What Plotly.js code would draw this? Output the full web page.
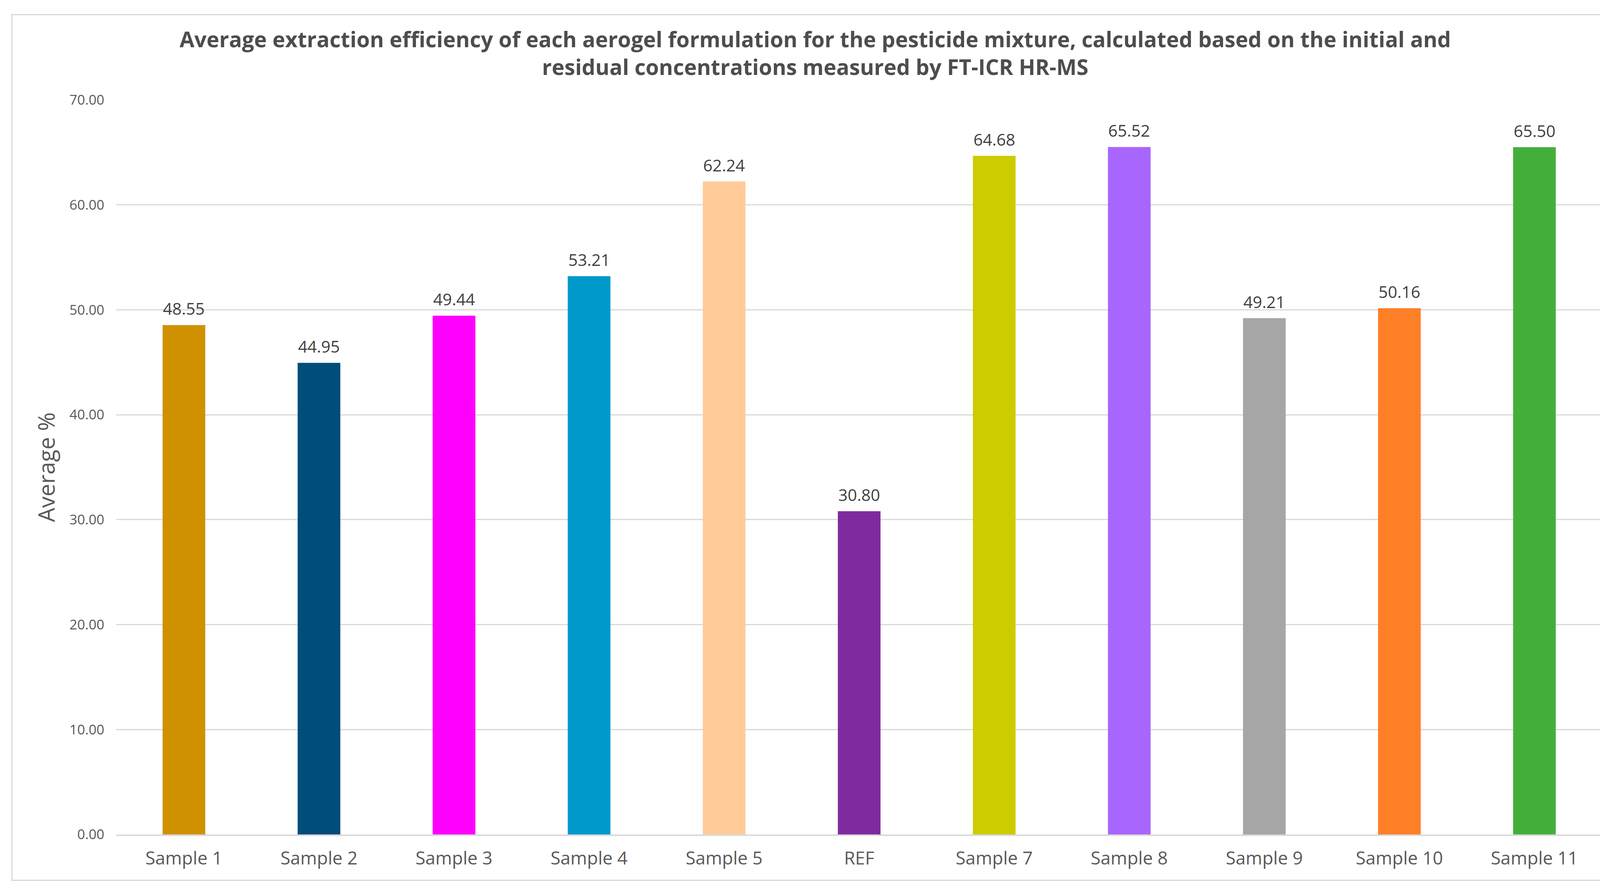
<!DOCTYPE html>
<html>
<head>
<meta charset="utf-8">
<script src="https://cdn.plot.ly/plotly-3.0.1.min.js"></script>
<style>
  html, body { margin: 0; padding: 0; background: #ffffff; }
  #chart {
    position: absolute; left: 29px; top: 36px;
    width: 4116px; height: 2220px; box-sizing: border-box;
    border: 3px solid #d9d9d9;
  }
</style>
</head>
<body>
<div id="chart"></div>
<script>
var samples = ["Sample 1", "Sample 2", "Sample 3", "Sample 4", "Sample 5", "REF",
               "Sample 7", "Sample 8", "Sample 9", "Sample 10", "Sample 11"];
var averages = [48.55, 44.95, 49.44, 53.21, 62.24, 30.80, 64.68, 65.52, 49.21, 50.16, 65.50];
var barColors = ["#cf9100", "#004c7a", "#ff00ff", "#0099cc", "#ffcc99", "#7f2a9f",
                 "#cccc00", "#a866ff", "#a6a6a6", "#ff7f27", "#43af3a"];
var yTicks = [0, 10, 20, 30, 40, 50, 60, 70];

var trace = {
  type: "bar",
  x: samples,
  y: averages,
  marker: { color: barColors },
  hoverinfo: "skip"
};

// value labels above each bar
var labels = samples.map(function(s, i) {
  return {
    x: s, y: averages[i], xref: "x", yref: "y",
    text: averages[i].toFixed(2),
    showarrow: false, yanchor: "bottom", yshift: 12,
    font: { family: "Open Sans, sans-serif", size: 42, color: "#404040" }
  };
});

var layout = {
  width: 4110, height: 2214,
  paper_bgcolor: "#ffffff", plot_bgcolor: "#ffffff",
  margin: { l: 266, r: 41, t: 217, b: 116 },
  showlegend: false,
  bargap: 0.684,
  title: {
    text: "Average extraction efficiency of each aerogel formulation for the pesticide mixture, calculated based on the initial and<br>residual concentrations measured by FT-ICR HR-MS",
    font: { family: "Open Sans, sans-serif", size: 55, color: "#4d4d4d", weight: "bold" },
    x: 0.5, xanchor: "center",
    y: 0.963, yanchor: "top"
  },
  xaxis: {
    type: "category",
    showgrid: false,
    showline: true, linecolor: "#d9d9d9", linewidth: 4,
    ticks: "", ticklabelstandoff: 18,
    tickfont: { family: "Open Sans, sans-serif", size: 46, color: "#595959" }
  },
  yaxis: {
    range: [0, 70],
    tickvals: yTicks,
    tickformat: ".2f",
    showgrid: true, gridcolor: "#d9d9d9", gridwidth: 3,
    zeroline: false, showline: false,
    ticks: "", ticklabelstandoff: 30,
    tickfont: { family: "Open Sans, sans-serif", size: 35, color: "#595959" },
    title: {
      text: "Average %",
      standoff: 18,
      font: { family: "Open Sans, sans-serif", size: 58, color: "#595959" }
    }
  },
  annotations: labels
};

Plotly.newPlot("chart", [trace], layout, { displayModeBar: false, staticPlot: true });
</script>
</body>
</html>
